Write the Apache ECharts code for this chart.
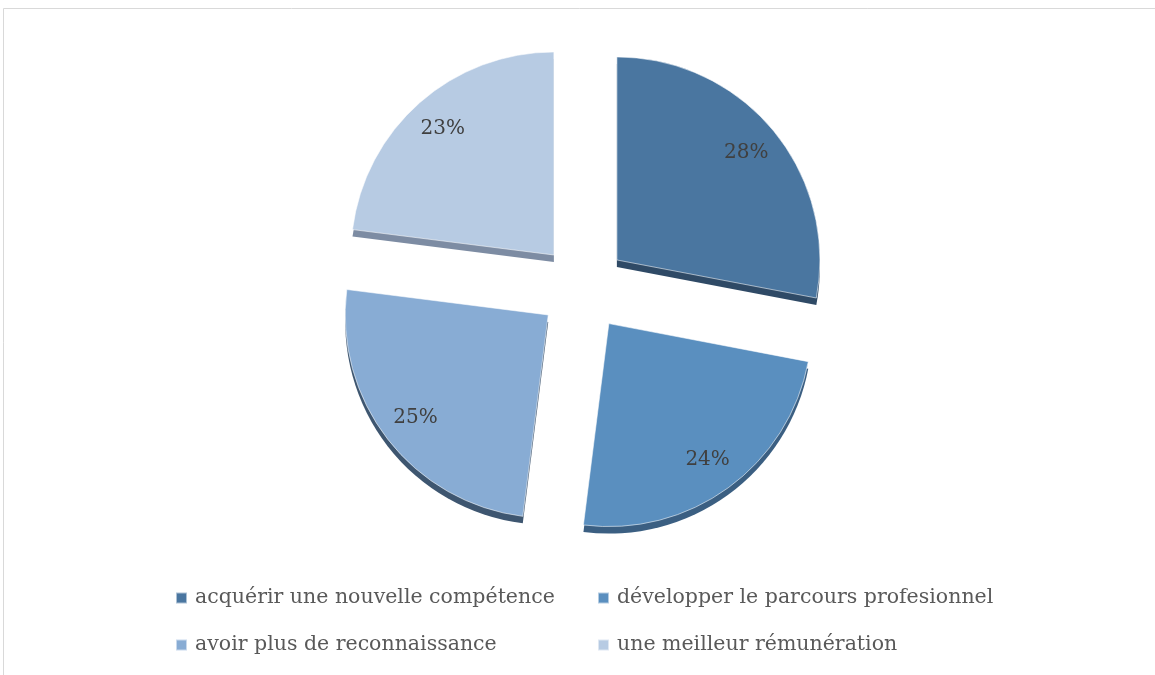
<!DOCTYPE html>
<html>
<head>
<meta charset="utf-8">
<script src="https://cdn.jsdelivr.net/npm/echarts@6/dist/echarts.min.js"></script>
<style>
  html, body { margin: 0; padding: 0; background: #fff; }
  #chart { width: 1155px; height: 675px; }
</style>
</head>
<body>
<div id="chart"></div>
<script>
// Motivations, share of respondents (%)
const categories = [
  'acquérir une nouvelle compétence',
  'développer le parcours profesionnel',
  'avoir plus de reconnaissance',
  'une meilleur rémunération'
];
const shares = [28, 24, 25, 23];

// Face and rim colours for each slice
const faceColors = ['#4a76a0', '#5a8fbf', '#88acd4', '#b7cbe3'];
const rimColors = ['#2f4a66', '#3b5f82', '#3e5670', '#7d8ca3'];

const CENTER = [583, 288];
const RADIUS = 203;
const EXPLODE = 44;
const FONT = '"DejaVu Serif", "Liberation Serif", serif';

function sliceData(colors) {
  return categories.map((name, i) => ({
    name: name,
    value: shares[i],
    selected: true,
    itemStyle: { color: colors[i] }
  }));
}

const legendBase = {
  orient: 'vertical',
  top: 581,
  itemWidth: 11, itemHeight: 11, itemGap: 23,
  icon: 'rect',
  textStyle: { fontFamily: FONT, fontSize: 20.5, color: '#595959', lineHeight: 24, padding: [0, 0, 0, 3] },
  selectedMode: false
};

const chart = echarts.init(document.getElementById('chart'));

chart.setOption({
  animation: false,
  backgroundColor: '#ffffff',
  graphic: [{
    type: 'rect',
    shape: { x: 3.5, y: 8.5, width: 1200, height: 700 },
    style: { fill: 'none', stroke: '#d9d9d9', lineWidth: 1 },
    silent: true
  }],
  legend: [
    Object.assign({}, legendBase, { left: 170, data: [categories[0], categories[2]] }),
    Object.assign({}, legendBase, { left: 592, data: [categories[1], categories[3]] })
  ],
  series: [
    {
      // slice faces
      type: 'pie',
      z: 3,
      center: CENTER,
      radius: RADIUS,
      startAngle: 90,
      clockwise: true,
      selectedMode: 'multiple',
      selectedOffset: EXPLODE,
      label: { show: false },
      labelLine: { show: false },
      emphasis: { disabled: true },
      itemStyle: { borderColor: 'rgba(255,255,255,0.55)', borderWidth: 1 },
      data: sliceData(faceColors)
    },
    {
      // slice thickness
      type: 'pie',
      z: 2,
      silent: true,
      center: [CENTER[0], CENTER[1] + 7],
      radius: RADIUS,
      startAngle: 90,
      clockwise: true,
      selectedMode: 'multiple',
      selectedOffset: EXPLODE,
      label: { show: false },
      labelLine: { show: false },
      emphasis: { disabled: true },
      data: sliceData(rimColors)
    },
    {
      // percentage labels
      type: 'pie',
      z: 4,
      silent: true,
      center: CENTER,
      radius: 330,
      startAngle: 90,
      clockwise: true,
      selectedMode: 'multiple',
      selectedOffset: EXPLODE,
      itemStyle: { color: 'rgba(0,0,0,0)' },
      label: {
        show: true,
        position: 'inside',
        formatter: '{c}%',
        fontFamily: FONT,
        fontSize: 20,
        color: '#404040'
      },
      labelLine: { show: false },
      emphasis: { disabled: true },
      data: categories.map((name, i) => ({ name: name, value: shares[i], selected: true }))
    }
  ]
});
</script>
</body>
</html>
